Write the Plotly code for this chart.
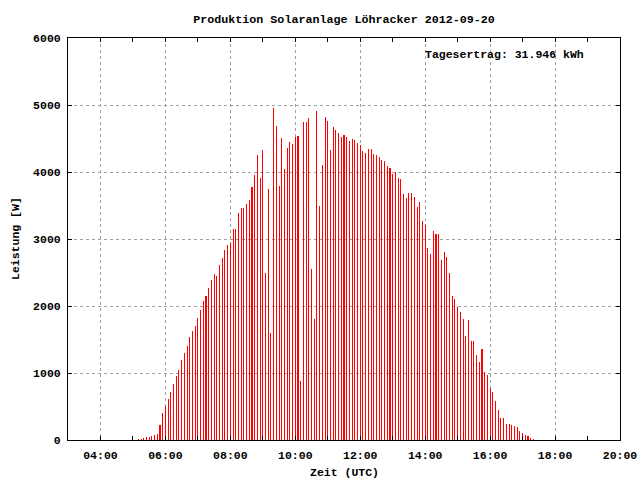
import pandas as pd
import plotly.graph_objects as go

# ---- data ----
title_text = "Produktion Solaranlage Löhracker 2012-09-20"
yield_text = "Tagesertrag: 31.946 kWh"
start_time = "2012-09-20 05:10"
interval = "5min"
power_w = [
    15, 15, 35, 50, 50, 65, 80, 95, 225, 410,
    510, 615, 720, 830, 960, 1050, 1190, 1305, 1410, 1530,
    1620, 1695, 1825, 1940, 2075, 2150, 2270, 2390, 2478, 2448,
    2612, 2716, 2836, 2910, 2940, 3150, 3150, 3388, 3463, 3463,
    3522, 3582, 3776, 3955, 4254, 3910, 4328, 2493, 3746, 1597,
    4955, 4687, 3791, 4507, 4045, 4358, 4448, 4418, 4522, 4537,
    881, 4746, 4746, 4806, 2552, 1806, 4910, 3493, 4104, 4821,
    4761, 4328, 4672, 4627, 4582, 4522, 4552, 4522, 4463, 4493,
    4478, 4433, 4403, 4313, 4284, 4343, 4343, 4269, 4254, 4224,
    4179, 4164, 4090, 4060, 3970, 4000, 3910, 3896, 3672, 3612,
    3687, 3687, 3627, 3478, 3552, 3269, 3209, 2866, 2776, 3119,
    3075, 3075, 2687, 2806, 2731, 2493, 2149, 2104, 1985, 1910,
    1806, 1552, 1791, 1478, 1478, 1269, 1164, 1358, 1015, 970,
    776, 716, 582, 448, 328, 328, 239, 239, 224, 209,
    194, 134, 104, 75, 60, 30, 15,
]
times = pd.date_range(start=start_time, periods=len(power_w), freq=interval)

x_range = ["2012-09-20 03:00", "2012-09-20 20:00"]
y_range = [0, 6000]

FONT = "Liberation Mono"
GRID = "#a0a0a0"

fig = go.Figure()
fig.add_trace(go.Bar(
    x=times, y=power_w,
    width=10000,
    marker=dict(color="#ff0000", line=dict(width=0)),
    showlegend=False,
))

fig.update_layout(
    width=640, height=480,
    margin=dict(l=68, r=20, t=38, b=40),
    paper_bgcolor="white", plot_bgcolor="white",
    font=dict(family=FONT, size=12, color="black"),
    bargap=0,
    title=dict(text="<b>" + title_text + "</b>", x=0.5, xref="paper",
               y=1 - 19 / 480, yref="container", yanchor="middle",
               font=dict(family=FONT, size=11.7, color="black")),
)

fig.update_xaxes(
    type="date", range=x_range, automargin=False,
    tick0="2012-09-20 04:00", dtick=2 * 3600 * 1000,
    tickformat="%H:%M",
    showgrid=True, gridcolor=GRID, gridwidth=1, griddash="3px,3px",
    ticks="inside", ticklen=4, tickcolor="black", tickwidth=1,
    minor=dict(dtick=3600 * 1000, ticks="inside", ticklen=4, tickcolor="black", showgrid=False),
    showline=True, linecolor="black", linewidth=1, mirror="ticks",
    zeroline=False,
    tickfont=dict(family=FONT, size=11.5, color="black", weight="bold"),
    ticklabelstandoff=4,
)
fig.update_yaxes(
    range=y_range, dtick=1000, tickformat="d", automargin=False,
    showgrid=True, gridcolor=GRID, gridwidth=1, griddash="3px,3px",
    ticks="inside", ticklen=4, tickcolor="black", tickwidth=1,
    showline=True, linecolor="black", linewidth=1, mirror="ticks",
    zeroline=False,
    tickfont=dict(family=FONT, size=11.5, color="black", weight="bold"),
    ticklabelstandoff=4,
)

fig.add_annotation(text="<b>" + yield_text + "</b>", xref="paper", yref="paper",
                   x=(586 - 68) / 552, y=(440 - 55) / 402,
                   xanchor="right", yanchor="middle", showarrow=False,
                   font=dict(family=FONT, size=11.5, color="black"))
fig.add_annotation(text="<b>Leistung [W]</b>", xref="paper", yref="paper",
                   x=(15 - 68) / 552, y=0.5, textangle=-90,
                   xanchor="center", yanchor="middle", showarrow=False,
                   font=dict(family=FONT, size=11.5, color="black"))
fig.add_annotation(text="<b>Zeit (UTC)</b>", xref="paper", yref="paper",
                   x=0.5, y=(440 - 472) / 402,
                   xanchor="center", yanchor="middle", showarrow=False,
                   font=dict(family=FONT, size=11.5, color="black"))

fig.write_html("out.html",
               config={"displayModeBar": False},
               post_script="document.body.style.margin='0';document.body.style.overflow='hidden';")
